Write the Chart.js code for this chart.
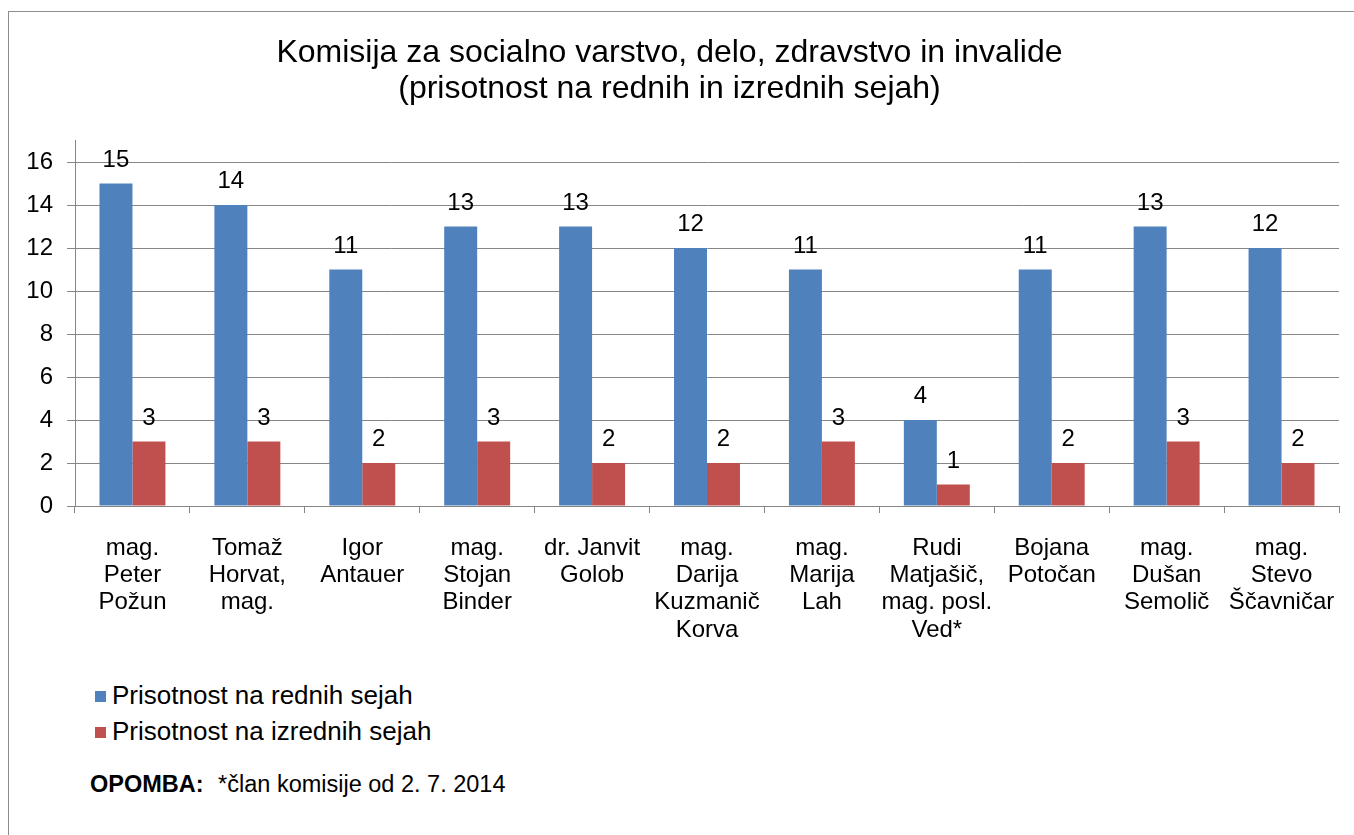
<!DOCTYPE html>
<html lang="sl">
<head>
  <meta charset="UTF-8">
  <title>Komisija za socialno varstvo, delo, zdravstvo in invalide</title>
  <script src="https://cdn.jsdelivr.net/npm/chart.js"></script>
  <style>
    body {
      margin: 0;
      background: #fff;
      font-family: "Liberation Sans", Arial, sans-serif;
      width: 1354px;
      height: 835px;
      overflow: hidden;
      position: relative;
    }
    .frame {
      position: absolute;
      left: 8px;
      top: 11px;
      width: 1400px;
      height: 900px;
      border-left: 1px solid #8c8c8c;
      border-top: 1px solid #8c8c8c;
    }
    #chart {
      position: absolute;
      left: 0;
      top: 0;
    }
    .legend {
      position: absolute;
      left: 95px;
      top: 680px;
      font-size: 26px;
      color: #000;
    }
    .legend div {
      height: 36px;
      line-height: 30px;
    }
    .legend span.box {
      display: inline-block;
      width: 11px;
      height: 11px;
      margin-right: 6px;
      vertical-align: 2px;
    }
    .note {
      position: absolute;
      left: 90px;
      top: 771px;
      font-size: 23.5px;
      color: #000;
    }
    .note b { margin-right: 8px; }
  </style>
</head>
<body>
  <div class="frame"></div>
  <canvas id="chart" width="1354" height="660"></canvas>
  <div class="legend">
    <div><span class="box" style="background:#4F81BD"></span>Prisotnost na rednih sejah</div>
    <div><span class="box" style="background:#C0504D"></span>Prisotnost na izrednih sejah</div>
  </div>
  <div class="note"><b>OPOMBA:</b> *član komisije od 2. 7. 2014</div>

  <script>
    const members = [
      ['mag.', 'Peter', 'Požun'],
      ['Tomaž', 'Horvat,', 'mag.'],
      ['Igor', 'Antauer'],
      ['mag.', 'Stojan', 'Binder'],
      ['dr. Janvit', 'Golob'],
      ['mag.', 'Darija', 'Kuzmanič', 'Korva'],
      ['mag.', 'Marija', 'Lah'],
      ['Rudi', 'Matjašič,', 'mag. posl.', 'Ved*'],
      ['Bojana', 'Potočan'],
      ['mag.', 'Dušan', 'Semolič'],
      ['mag.', 'Stevo', 'Ščavničar']
    ];
    const regularSessions = [15, 14, 11, 13, 13, 12, 11, 4, 11, 13, 12];
    const extraSessions = [3, 3, 2, 3, 2, 2, 3, 1, 2, 3, 2];
    const yTickValues = [0, 2, 4, 6, 8, 10, 12, 14, 16];
    const titleLines = ['Komisija za socialno varstvo, delo, zdravstvo in invalide', '(prisotnost na rednih in izrednih sejah)'];

    const fontFamily = '"Liberation Sans", Arial, sans-serif';
    const gridColor = '#868686';

    // value labels above each bar
    const barLabels = {
      id: 'barLabels',
      afterDatasetsDraw(chart) {
        const ctx = chart.ctx;
        ctx.save();
        ctx.font = '24px ' + fontFamily;
        ctx.fillStyle = '#000';
        ctx.textAlign = 'center';
        ctx.textBaseline = 'alphabetic';
        chart.data.datasets.forEach((ds, i) => {
          chart.getDatasetMeta(i).data.forEach((bar, j) => {
            ctx.fillText(ds.data[j], bar.x, bar.y - 17);
          });
        });
        ctx.restore();
      }
    };

    const ctx = document.getElementById('chart').getContext('2d');
    new Chart(ctx, {
      type: 'bar',
      data: {
        labels: members,
        datasets: [
          {
            label: 'Prisotnost na rednih sejah',
            data: regularSessions,
            backgroundColor: '#4F81BD',
            categoryPercentage: 0.574,
            barPercentage: 1
          },
          {
            label: 'Prisotnost na izrednih sejah',
            data: extraSessions,
            backgroundColor: '#C0504D',
            categoryPercentage: 0.574,
            barPercentage: 1
          }
        ]
      },
      options: {
        responsive: false,
        animation: false,
        layout: { padding: { left: 0, right: 15, top: 0, bottom: 0 } },
        plugins: {
          legend: { display: false },
          tooltip: { enabled: false },
          title: {
            display: true,
            text: titleLines,
            color: '#000',
            font: { family: fontFamily, size: 32, weight: 'normal', lineHeight: 1.125 },
            padding: { top: 35, bottom: 33.5 }
          }
        },
        scales: {
          x: {
            grid: {
              display: true,
              drawOnChartArea: false,
              drawTicks: true,
              tickLength: 7,
              color: gridColor
            },
            border: { color: gridColor },
            ticks: {
              color: '#000',
              font: { family: fontFamily, size: 24, lineHeight: 1.13 },
              padding: 22,
              maxRotation: 0,
              autoSkip: false
            },
            afterFit(scale) {
              scale.height = 154;
              scale.paddingLeft = 0;
              scale.paddingRight = 0;
            }
          },
          y: {
            min: 0,
            max: 17,
            ticks: {
              color: '#000',
              font: { family: fontFamily, size: 24 },
              padding: 14
            },
            afterBuildTicks(scale) {
              scale.ticks = yTickValues.map(v => ({ value: v }));
            },
            grid: {
              color: gridColor,
              tickLength: 8
            },
            border: { color: gridColor },
            afterFit(scale) { scale.width = 75; }
          }
        }
      },
      plugins: [barLabels]
    });
  </script>
</body>
</html>
